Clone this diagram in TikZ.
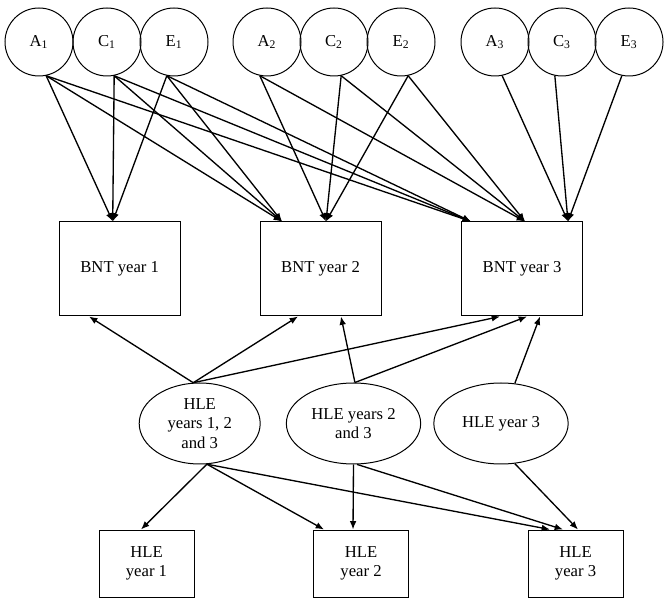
\documentclass[tikz,border=0pt]{standalone}
\usepackage{fontspec}
\setmainfont{Liberation Serif}
\usetikzlibrary{arrows.meta,shapes.geometric}

\begin{document}
\begin{tikzpicture}[x=0.6pt, y=0.6pt,
  font=\fontsize{10}{11.5}\selectfont,
  latent/.style={draw, semithick, circle, minimum size=40.8pt, inner sep=0pt},
  hle_ell/.style={draw, semithick, ellipse, minimum height=48.6pt, inner sep=0pt, align=center},
  bnt_box/.style={draw, semithick, minimum width=72.6pt, minimum height=56.4pt},
  hle_box/.style={draw, semithick, minimum width=57pt, minimum height=40.2pt, align=center},
  path_arr/.style={thick, -{Latex[length=5pt, width=4pt]}}]

\useasboundingbox (0,0) rectangle (665,603);

% A, C and E factors
\node[latent] (A1) at (39,561) {A\textsubscript{1}};
\node[latent] (C1) at (107,561) {C\textsubscript{1}};
\node[latent] (E1) at (174,561) {E\textsubscript{1}};
\node[latent] (A2) at (267,561) {A\textsubscript{2}};
\node[latent] (C2) at (334,561) {C\textsubscript{2}};
\node[latent] (E2) at (401,561) {E\textsubscript{2}};
\node[latent] (A3) at (495,561) {A\textsubscript{3}};
\node[latent] (C3) at (562,561) {C\textsubscript{3}};
\node[latent] (E3) at (629,561) {E\textsubscript{3}};

% BNT scores
\node[bnt_box] (bnt_y1) at (119.7,334) {BNT year 1};
\node[bnt_box] (bnt_y2) at (320.5,334) {BNT year 2};
\node[bnt_box] (bnt_y3) at (522,334) {BNT year 3};

% HLE factors
\node[hle_ell, minimum width=72.6pt] (hle_e123) at (199.7,179.5) {HLE\\years 1, 2\\and 3};
\node[hle_ell, minimum width=80.6pt] (hle_e23) at (353.5,179.5) {HLE years 2\\and 3};
\node[hle_ell, minimum width=80.6pt] (hle_e3) at (501,179.5) {HLE year 3};

% HLE scores
\node[hle_box] (hle_y1) at (146.5,39.5) {HLE\\year 1};
\node[hle_box] (hle_y2) at (361,39.5) {HLE\\year 2};
\node[hle_box] (hle_y3) at (575.5,39.5) {HLE\\year 3};

% where the arrows meet the boxes
\coordinate (bnt1_t) at ([xshift=-4.2pt]bnt_y1.north);
\coordinate (bnt2_t1) at ([xshift=-23.1pt]bnt_y2.north);
\coordinate (bnt2_t2) at ([xshift=3.3pt]bnt_y2.north);
\coordinate (bnt3_t1) at ([xshift=-30.6pt]bnt_y3.north);
\coordinate (bnt3_t2) at ([xshift=1.8pt]bnt_y3.north);
\coordinate (bnt3_t3) at ([xshift=27.6pt]bnt_y3.north);

\coordinate (bnt1_b) at ([xshift=-18.4pt]bnt_y1.south);
\coordinate (bnt2_b1) at ([xshift=-13.5pt]bnt_y2.south);
\coordinate (bnt2_b2) at ([xshift=12.3pt]bnt_y2.south);
\coordinate (bnt3_b1) at ([xshift=-13.2pt]bnt_y3.south);
\coordinate (bnt3_b2) at ([xshift=3pt]bnt_y3.south);
\coordinate (bnt3_b3) at ([xshift=10.8pt]bnt_y3.south);

\coordinate (hle1_t) at ([xshift=-3.3pt]hle_y1.north);
\coordinate (hle2_t1) at ([xshift=-22.2pt]hle_y2.north);
\coordinate (hle2_t2) at ([xshift=-4.8pt]hle_y2.north);
\coordinate (hle3_t1) at ([xshift=-15.3pt]hle_y3.north);
\coordinate (hle3_t2) at ([xshift=-7.5pt]hle_y3.north);
\coordinate (hle3_t3) at ([xshift=1.5pt]hle_y3.north);

% year 1 factors
\draw[path_arr] (A1.-78) -- (bnt1_t);
\draw[path_arr] (A1.-78) -- (bnt2_t1);
\draw[path_arr] (A1.-78) -- (bnt3_t1);
\draw[path_arr] (C1.-78) -- (bnt1_t);
\draw[path_arr] (C1.-78) -- (bnt2_t1);
\draw[path_arr] (C1.-78) -- (bnt3_t1);
\draw[path_arr] (E1.-102) -- (bnt1_t);
\draw[path_arr] (E1.-102) -- (bnt2_t1);
\draw[path_arr] (E1.-102) -- (bnt3_t1);

% year 2 factors
\draw[path_arr] (A2.-102) -- (bnt2_t2);
\draw[path_arr] (A2.-102) -- (bnt3_t2);
\draw[path_arr] (C2.-78) -- (bnt2_t2);
\draw[path_arr] (C2.-78) -- (bnt3_t2);
\draw[path_arr] (E2.-78) -- (bnt2_t2);
\draw[path_arr] (E2.-78) -- (bnt3_t2);

% year 3 factors
\draw[path_arr] (A3.-78) -- (bnt3_t3);
\draw[path_arr] (C3.-102) -- (bnt3_t3);
\draw[path_arr] (E3.-102) -- (bnt3_t3);

% HLE factors to BNT
\draw[path_arr] (hle_e123.99) -- (bnt1_b);
\draw[path_arr] (hle_e123.99) -- (bnt2_b1);
\draw[path_arr] (hle_e123.99) -- (bnt3_b1);
\draw[path_arr] (hle_e23.88) -- (bnt2_b2);
\draw[path_arr] (hle_e23.88) -- (bnt3_b2);
\draw[path_arr] (hle_e3.71) -- (bnt3_b3);

% HLE factors to HLE scores
\draw[path_arr] (hle_e123.-80) -- (hle1_t);
\draw[path_arr] (hle_e123.-80) -- (hle2_t1);
\draw[path_arr] (hle_e123.-80) -- (hle3_t1);
\draw[path_arr] (hle_e23.south) -- (hle2_t2);
\draw[path_arr] (hle_e23.-85) -- (hle3_t2);
\draw[path_arr] (hle_e3.-71) -- (hle3_t3);

\end{tikzpicture}
\end{document}
